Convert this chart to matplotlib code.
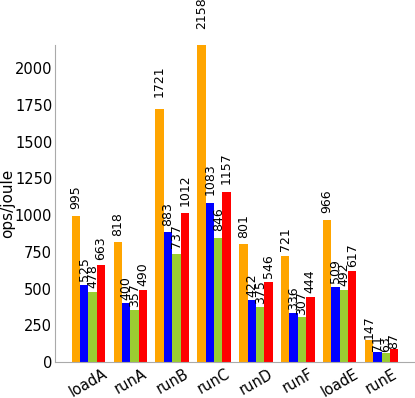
import matplotlib
matplotlib.use("Agg")
import matplotlib.pyplot as plt
import numpy as np

categories = ["loadA", "runA", "runB", "runC", "runD", "runF", "loadE", "runE"]
series_a = [995, 818, 1721, 2158, 801, 721, 966, 147]
series_b = [525, 400, 883, 1083, 422, 336, 509, 71]
series_c = [478, 357, 737, 846, 375, 307, 492, 63]
series_d = [663, 490, 1012, 1157, 546, 444, 617, 87]
colors = ["orange", "blue", "yellowgreen", "red"]

fig = plt.figure(figsize=(4.15, 3.98), dpi=100)
ax = fig.add_axes([0.1325, 0.0905, 0.8675, 0.7965])

x = np.arange(len(categories))
w = 0.2
for i, (vals, c) in enumerate(zip([series_a, series_b, series_c, series_d], colors)):
    pos = x - 0.3 + i * w
    bars = ax.bar(pos, vals, w, color=c)
    for b, v in zip(bars, vals):
        ax.text(b.get_x() + b.get_width() / 2, v * 1.05, str(v),
                rotation=90, ha="center", va="bottom", fontsize=9)

ax.set_xlim(-0.8, 7.8)
ax.set_ylim(0, 2158)
ax.set_xticks(x)
ax.set_xticklabels(categories, rotation=30, fontsize=10.5)
ax.set_yticks(np.arange(0, 2001, 250))
ax.tick_params(axis="both", length=0)
ax.tick_params(axis="y", pad=2, labelsize=10.5)
ax.tick_params(axis="x", pad=3)
ax.set_ylabel("ops/joule", fontsize=11, labelpad=0)
for s in ["top", "right"]:
    ax.spines[s].set_visible(False)
for s in ["left", "bottom"]:
    ax.spines[s].set_color("#aaaaaa")
fig.savefig("out.png", dpi=100)
